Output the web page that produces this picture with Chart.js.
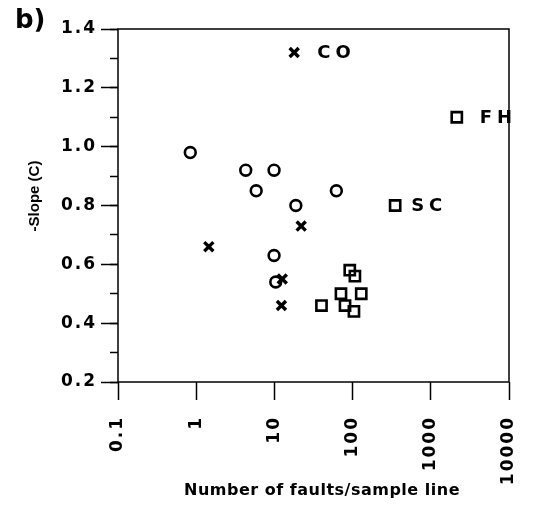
<!DOCTYPE html>
<html>
<head>
<meta charset="utf-8">
<script src="https://cdn.jsdelivr.net/npm/chart.js@4"></script>
<style>
    html, body { margin: 0; padding: 0; background: #fff; }
</style>
</head>
<body>
<canvas id="slope-chart" width="538" height="507"></canvas>
<script>
// =========================
// Data
// =========================
const xTicks = [0.1, 1, 10, 100, 1000, 10000];

// open circles
const circleX = [0.84, 4.3, 9.9, 5.85, 62, 18.8, 9.9, 10.4];
const circleY = [0.98, 0.92, 0.92, 0.85, 0.85, 0.80, 0.63, 0.54];

// crosses
const crossX = [17.9, 22, 1.45, 12.6, 12.3];
const crossY = [1.32, 0.73, 0.66, 0.55, 0.46];

// open squares
const squareX = [92, 107, 40, 71, 129, 80, 104, 350, 2150];
const squareY = [0.58, 0.56, 0.46, 0.50, 0.50, 0.46, 0.44, 0.80, 1.10];

// point labels: text, dataset index, point index
const labelText = ['CO', 'SC', 'FH'];
const labelSeries = [1, 2, 2];
const labelPoint = [0, 7, 8];

const FONT = '"DejaVu Sans", Verdana, sans-serif';
const seriesX = [circleX, crossX, squareX];
const seriesY = [circleY, crossY, squareY];

const toPoints = (xs, ys) => xs.map((x, i) => ({ x, y: ys[i] }));

function drawText(ctx, text, x, y, font, spacing, align, rotate) {
    ctx.save();
    ctx.font = font;
    ctx.letterSpacing = spacing;
    ctx.fillStyle = '#000';
    ctx.textAlign = align;
    ctx.textBaseline = 'middle';
    ctx.translate(x, y);
    if (rotate) ctx.rotate(rotate);
    ctx.fillText(text, 0, 0);
    ctx.restore();
}

// extra drawing: frame, titles, point labels
const extras = {
    id: 'extras',
    beforeDraw(chart) {
        chart.ctx.letterSpacing = '2px';
    },
    beforeDatasetsDraw(chart) {
        const { ctx, chartArea: a } = chart;
        ctx.save();
        ctx.strokeStyle = '#000';
        ctx.lineWidth = 1.5;
        ctx.strokeRect(a.left, a.top, a.right - a.left, a.bottom - a.top);
        ctx.restore();
    },
    afterDatasetsDraw(chart) {
        const { ctx, scales } = chart;
        const gaps = [23, 16, 23];
        labelText.forEach((txt, i) => {
            const s = labelSeries[i], p = labelPoint[i];
            const px = scales.x.getPixelForValue(seriesX[s][p]);
            const py = scales.y.getPixelForValue(seriesY[s][p]);
            drawText(ctx, txt, px + gaps[i], py + 1, `bold 18px ${FONT}`, '5px', 'left');
        });
    },
    afterDraw(chart) {
        const { ctx } = chart;
        drawText(ctx, 'b)', 15, 21, `bold 26px ${FONT}`, '0px', 'left');
        drawText(ctx, '-Slope (C)', 35, 196, 'bold 15px "Liberation Sans", Arial, sans-serif', '0px', 'center', -Math.PI / 2);
        drawText(ctx, 'Number of faults/sample line', 322, 491, `bold 16px ${FONT}`, '0.5px', 'center');
    }
};

const tickFont = { family: FONT, size: 17, weight: 'bold' };

new Chart(document.getElementById('slope-chart'), {
    type: 'scatter',
    data: {
        datasets: [
            {
                data: toPoints(circleX, circleY),
                pointStyle: 'circle',
                pointRadius: 5.4,
                borderWidth: 2.6,
                borderColor: '#000',
                backgroundColor: 'rgba(0,0,0,0)',
            },
            {
                data: toPoints(crossX, crossY),
                pointStyle: 'crossRot',
                pointRadius: 6.4,
                borderWidth: 3.4,
                borderColor: '#000',
                backgroundColor: 'rgba(0,0,0,0)',
            },
            {
                data: toPoints(squareX, squareY),
                pointStyle: 'rect',
                pointRadius: 7.2,
                borderWidth: 2.6,
                borderColor: '#000',
                backgroundColor: 'rgba(0,0,0,0)',
            }
        ]
    },
    options: {
        responsive: false,
        animation: false,
        devicePixelRatio: 1,
        layout: { padding: { top: 29, right: 29, left: 0, bottom: 0 } },
        plugins: { legend: { display: false }, tooltip: { enabled: false } },
        scales: {
            x: {
                type: 'logarithmic',
                min: 0.1,
                max: 10000,
                afterBuildTicks: (s) => { s.ticks = xTicks.map(v => ({ value: v })); },
                afterFit: (s) => {
                    s.height = 125;
                    s.paddingLeft = 0;
                    s.paddingRight = 0;
                },
                grid: { drawOnChartArea: false, tickLength: 18, tickWidth: 1.5, tickColor: '#000' },
                border: { display: false },
                ticks: {
                    autoSkip: false,
                    minRotation: 90,
                    maxRotation: 90,
                    padding: 16,
                    color: '#000',
                    font: tickFont,
                    callback: v => String(v)
                }
            },
            y: {
                min: 0.2,
                max: 1.4,
                weight: 1,
                afterFit: (s) => { s.width = 118; },
                grid: { drawOnChartArea: false, tickLength: 17, tickWidth: 1.5, tickColor: '#000' },
                border: { display: false },
                ticks: {
                    stepSize: 0.2,
                    padding: 4,
                    color: '#000',
                    font: tickFont,
                    callback: v => v.toFixed(1)
                }
            },
            yMinor: {
                position: 'left',
                min: 0.2,
                max: 1.4,
                weight: 0,
                afterFit: (s) => { s.width = 0; },
                grid: { drawOnChartArea: false, tickLength: 8, tickWidth: 1.5, tickColor: '#000' },
                border: { display: false },
                ticks: { display: false, stepSize: 0.1 }
            }
        }
    },
    plugins: [extras]
});
</script>
</body>
</html>
